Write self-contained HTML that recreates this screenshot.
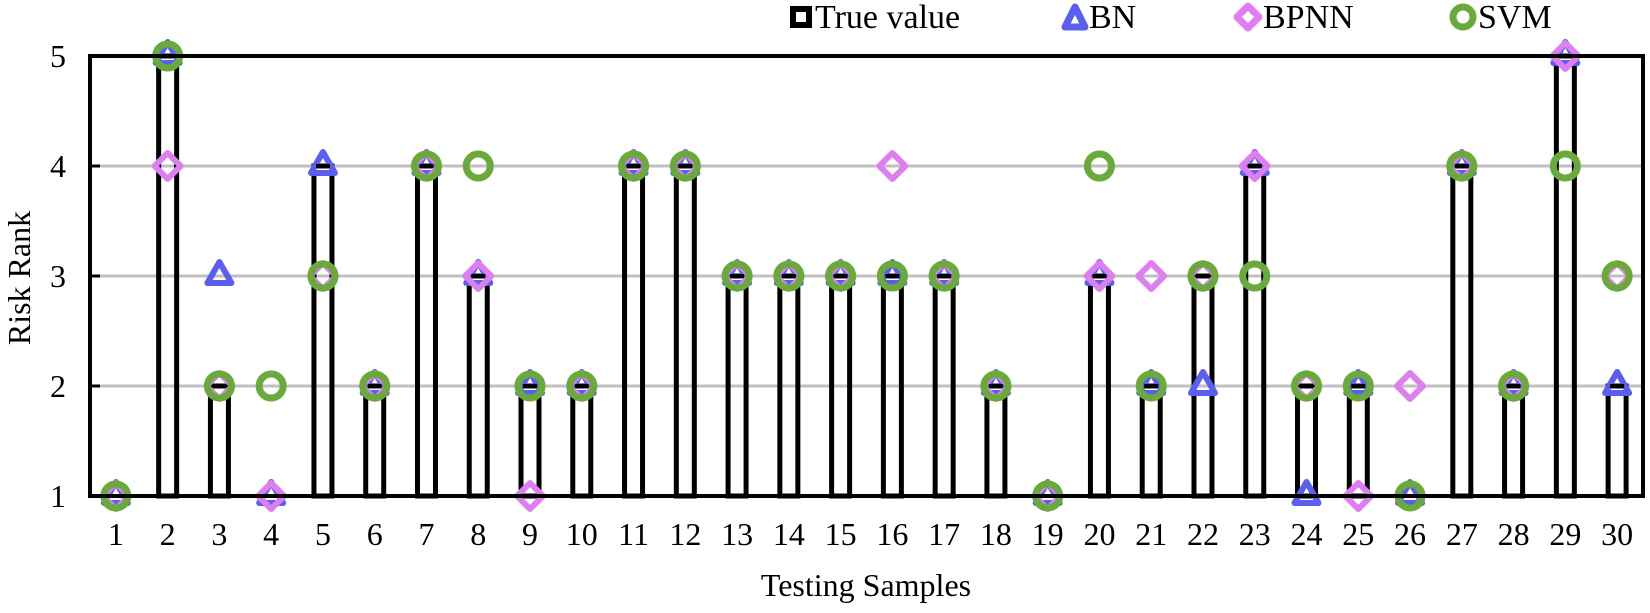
<!DOCTYPE html>
<html><head><meta charset="utf-8"><style>
body{margin:0;background:#fff}
svg text{font-family:"Liberation Serif",serif;fill:#000}
</style></head><body>
<svg id="chart" width="1650" height="608" xmlns="http://www.w3.org/2000/svg">
<g id="grid"></g><g id="bars"></g><g id="marks"></g><g id="axes"></g>
<g id="legend">
 <rect x="793" y="9" width="16" height="16" fill="none" stroke="#000" stroke-width="6"/>
 <text x="815" y="28" font-size="34">True value</text>
 <polygon points="1075,7 1085,27 1065,27" fill="none" stroke="#5a5ff0" stroke-width="7" stroke-linejoin="round"/>
 <text x="1089" y="28" font-size="34">BN</text>
 <polygon points="1248,6 1259,17 1248,28 1237,17" fill="none" stroke="#de7ef0" stroke-width="7" stroke-linejoin="round"/>
 <text x="1263" y="28" font-size="34">BPNN</text>
 <circle cx="1463" cy="17" r="10" fill="none" stroke="#6aaa3a" stroke-width="7"/>
 <text x="1478" y="28" font-size="34">SVM</text>
</g>
<text x="866" y="596" font-size="32" text-anchor="middle">Testing Samples</text>
<text transform="translate(30,278) rotate(-90)" font-size="32" text-anchor="middle">Risk Rank</text>
</svg>
<script>
const categories = Array.from({length:30},(_,i)=>String(i+1));
const trueValues = [1,5,2,1,4,2,4,3,2,2,4,4,3,3,3,3,3,2,1,3,2,3,4,2,2,1,4,2,5,2];
const bnValues   = [1,5,3,1,4,2,4,3,2,2,4,4,3,3,3,3,3,2,1,3,2,2,4,1,2,1,4,2,5,2];
const bpnnValues = [1,4,2,1,3,2,4,3,1,2,4,4,3,3,3,4,3,2,1,3,3,3,4,2,1,2,4,2,5,3];
const svmValues  = [1,5,2,2,3,2,4,4,2,2,4,4,3,3,3,3,3,2,1,4,2,3,3,2,2,1,4,2,4,3];
const yTicks = [1,2,3,4,5];

const NS="http://www.w3.org/2000/svg";
const L=90,R=1643,T=56,B=496;
const bw=(R-L)/categories.length;
const xS=i=>L+(i+0.5)*bw;
const yS=v=>B-(v-1)/(5-1)*(B-T);
function mk(tag,attrs,parent){const e=document.createElementNS(NS,tag);for(const k in attrs)e.setAttribute(k,attrs[k]);document.getElementById(parent).appendChild(e);return e;}

yTicks.forEach(v=>{
  if(v>1&&v<5){const g=mk('line',{x1:L,x2:R,y1:yS(v),y2:yS(v),stroke:'#c0c0c0','stroke-width':3},'grid');
  
  }
  const t=mk('line',{x1:L,x2:L+10,y1:yS(v),y2:yS(v),stroke:'#000','stroke-width':3},'axes');
  
  
  const lb=mk('text',{x:66,y:yS(v)+11,'font-size':32,'text-anchor':'end'},'axes');lb.textContent=v;
  
  
});
const frame=mk('rect',{x:L,y:T,width:R-L,height:B-T,fill:'none',stroke:'#000','stroke-width':4},'axes');


categories.forEach((c,i)=>{
  const lb=mk('text',{x:xS(i),y:545,'font-size':32,'text-anchor':'middle'},'axes');lb.textContent=c;
  
  
  const v=trueValues[i];
  if(v>1){const b=mk('rect',{x:xS(i)-9,y:yS(v),width:18,height:B-yS(v),fill:'none',stroke:'#000','stroke-width':5},'bars');
  
  }
  const x=xS(i);
  let y=yS(bnValues[i]);
  const tri=mk('polygon',{points:`${x},${y-14} ${x+12},${y+7} ${x-12},${y+7}`,fill:'none',stroke:'#5a5ff0','stroke-width':6,'stroke-linejoin':'round'},'marks');
  
  
  y=yS(bpnnValues[i]);
  const d=mk('polygon',{points:`${x},${y-13} ${x+13},${y} ${x},${y+13} ${x-13},${y}`,fill:'none',stroke:'#de7ef0','stroke-width':6,'stroke-linejoin':'round'},'marks');
  
  
  y=yS(svmValues[i]);
  const ci=mk('circle',{cx:x,cy:y,r:12,fill:'none',stroke:'#6aaa3a','stroke-width':7},'marks');
  
  
  y=yS(v);
  const dash=mk('line',{x1:x-7,x2:x+7,y1:y,y2:y,stroke:'#000','stroke-width':4},'marks');
  
  
});
</script>
</body></html>
